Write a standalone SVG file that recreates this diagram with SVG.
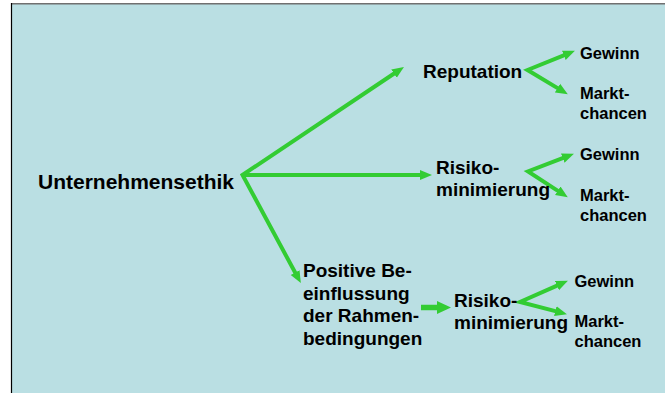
<svg xmlns="http://www.w3.org/2000/svg" width="665" height="393" viewBox="0 0 665 393">
<defs>
<style>
text{font-family:"Liberation Sans",Arial,sans-serif;font-weight:bold;fill:#000}
.l{font-size:19px}
.xl{font-size:21px}
.s{font-size:16.5px}
.c{fill:none;stroke:#33CC33;stroke-width:4;stroke-linejoin:miter;stroke-miterlimit:6}
</style>
<marker id="ah" markerUnits="userSpaceOnUse" markerWidth="14" markerHeight="12" viewBox="0 -6 14 12" refX="2" refY="0" orient="auto-start-reverse">
<path d="M0,-5 L12,0 L0,5 z" fill="#33CC33"/>
</marker>
</defs>
<rect x="0" y="0" width="665" height="393" fill="#ffffff"/>
<rect x="11.5" y="4" width="653.5" height="389" fill="#BADFE3"/>
<line x1="11" y1="3.8" x2="665" y2="3.8" stroke="#707070" stroke-width="1.6"/>
<line x1="11.5" y1="3" x2="11.5" y2="393" stroke="#000" stroke-width="1.2"/>

<g id="connectors">
<polyline class="c" points="395.65,72.5 242.5,175 296.08,274.29" marker-start="url(#ah)" marker-end="url(#ah)"/>
<line class="c" x1="242" y1="175" x2="422" y2="175" marker-end="url(#ah)"/>
<polyline class="c" points="565.65,54.55 527.5,70 559.26,89.12" marker-start="url(#ah)" marker-end="url(#ah)"/>
<polyline class="c" points="564.6,157.39 528,171.5 559.43,191.86" marker-start="url(#ah)" marker-end="url(#ah)"/>
<polyline class="c" points="558.76,284.8 520,302 557.27,311.67" marker-start="url(#ah)" marker-end="url(#ah)"/>
<line x1="421" y1="307.5" x2="439" y2="307.5" stroke="#33CC33" stroke-width="5.5"/>
<polygon points="437,301 451,307.5 437,314" fill="#33CC33"/>
</g>

<g id="n-ethik"><text class="xl" x="38" y="188.5">Unternehmensethik</text></g>
<g id="n-reputation"><text class="l" x="423" y="78">Reputation</text></g>
<g id="n-risiko1"><text class="l" x="436" y="174">Risiko-</text><text class="l" x="436" y="196">minimierung</text></g>
<g id="n-positive"><text class="l" x="303" y="277">Positive Be-</text><text class="l" x="303" y="299.5">einflussung</text><text class="l" x="303" y="322">der Rahmen-</text><text class="l" x="303" y="344.5">bedingungen</text></g>
<g id="n-risiko2"><text class="l" x="454" y="307">Risiko-</text><text class="l" x="454" y="329">minimierung</text></g>
<g id="n-gewinn1"><text class="s" x="580" y="58.5">Gewinn</text></g>
<g id="n-markt1"><text class="s" x="580" y="99">Markt-</text><text class="s" x="580" y="119">chancen</text></g>
<g id="n-gewinn2"><text class="s" x="580" y="159.5">Gewinn</text></g>
<g id="n-markt2"><text class="s" x="580" y="200.5">Markt-</text><text class="s" x="580" y="220.5">chancen</text></g>
<g id="n-gewinn3"><text class="s" x="574.5" y="286.5">Gewinn</text></g>
<g id="n-markt3"><text class="s" x="574.5" y="327">Markt-</text><text class="s" x="574.5" y="347">chancen</text></g>
</svg>
